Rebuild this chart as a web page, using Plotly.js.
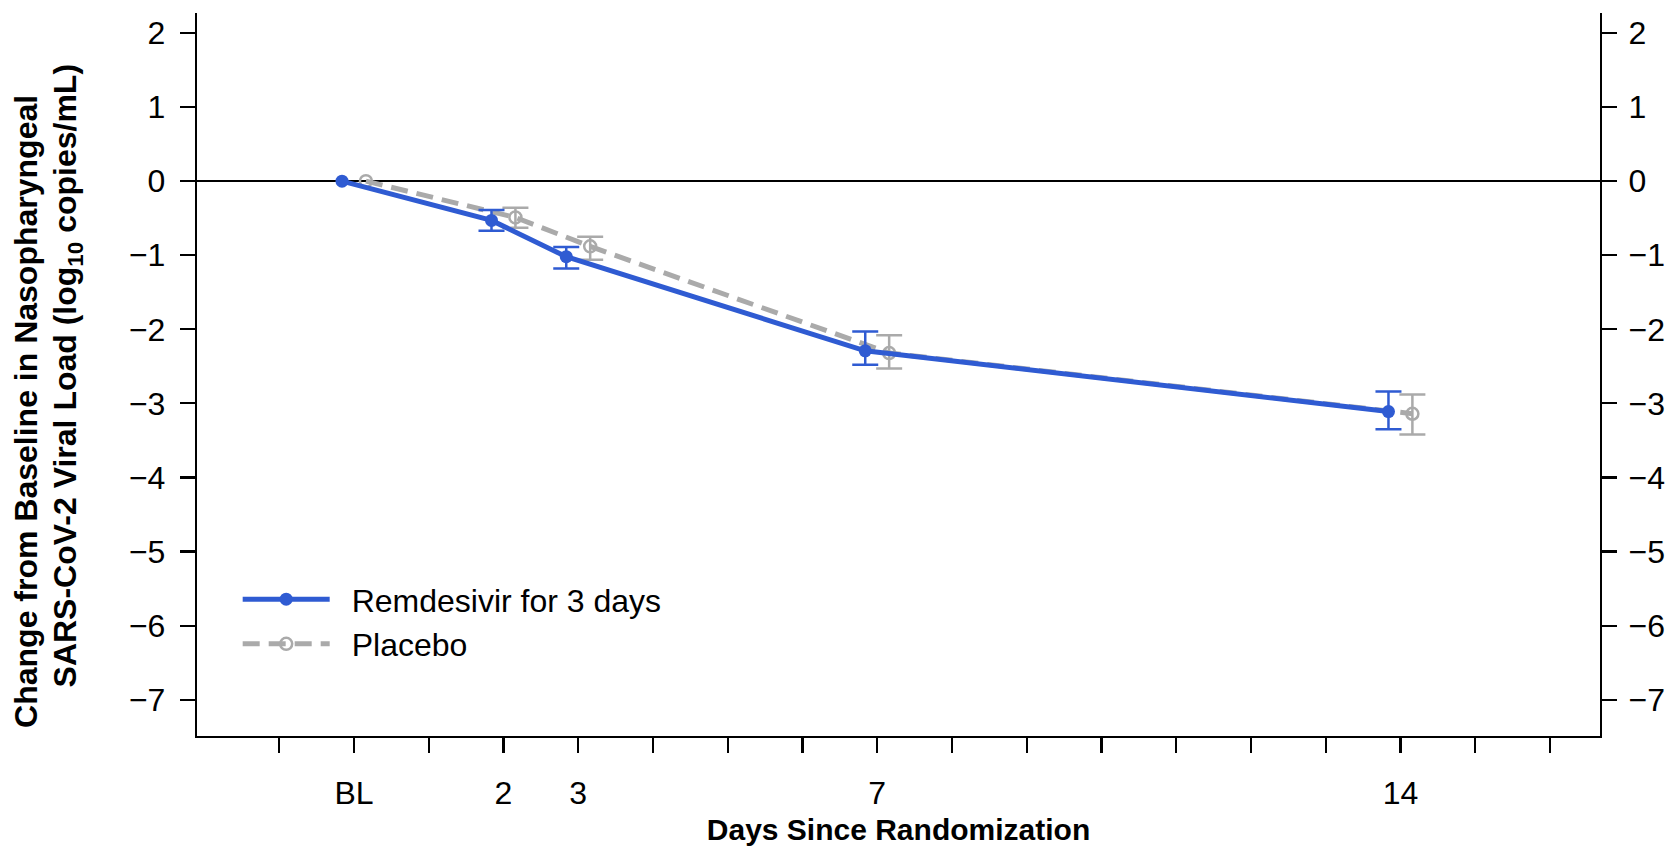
<!DOCTYPE html>
<html>
<head>
<meta charset="utf-8">
<script src="https://cdn.plot.ly/plotly-3.0.1.min.js"></script>
<style>
  html, body { margin: 0; padding: 0; background: #fff; }
  #chart { width: 1667px; height: 848px; }
</style>
</head>
<body>
<div id="chart"></div>
<script>
// ---- data ----
const days = [0, 2, 3, 7, 14];
const remName = 'Remdesivir for 3 days';
const remMean  = [0, -0.53, -1.02, -2.29, -3.11];
const remUpper = [null, -0.39, -0.89, -2.03, -2.84];
const remLower = [null, -0.67, -1.18, -2.48, -3.35];
const plaName = 'Placebo';
const plaMean  = [0, -0.49, -0.88, -2.32, -3.14];
const plaUpper = [null, -0.36, -0.75, -2.08, -2.88];
const plaLower = [null, -0.63, -1.06, -2.53, -3.42];
const xTickVals = [0, 2, 3, 7, 14];
const xTickText = ['BL', '2', '3', '7', '14'];
const xMinorTicks = [-1, 1, 4, 5, 6, 8, 9, 10, 11, 12, 13, 15, 16];
const yTickVals = [2, 1, 0, -1, -2, -3, -4, -5, -6, -7];
const xTitle = 'Days Since Randomization';
const yTitle1 = 'Change from Baseline in Nasopharyngeal';
const yTitle2 = 'SARS-CoV-2 Viral Load (log<sub>10</sub> copies/mL)';

// ---- styling ----
const BLUE = '#2f5bd2';
const GRAY = '#aaaaaa';
const dodge = 0.16;
const FONT = 'Liberation Sans, Arial, Helvetica, sans-serif';
const TICKSIZE = 32;

function errs(mean, hi, lo) {
  return {
    plus: mean.map((m, i) => hi[i] == null ? NaN : hi[i] - m),
    minus: mean.map((m, i) => lo[i] == null ? NaN : m - lo[i])
  };
}
const eRem = errs(remMean, remUpper, remLower);
const ePla = errs(plaMean, plaUpper, plaLower);

const traces = [
  {
    x: days.map(d => d + dodge), y: plaMean, name: plaName,
    type: 'scatter', mode: 'lines+markers',
    line: { color: GRAY, width: 5, dash: '17px,9px' },
    marker: { symbol: 'circle-open', size: 12, color: GRAY, line: { width: 2.5, color: GRAY } },
    error_y: { type: 'data', symmetric: false, array: ePla.plus, arrayminus: ePla.minus,
               color: GRAY, thickness: 2.5, width: 13 }
  },
  {
    x: days.map(d => d - dodge), y: remMean, name: remName,
    type: 'scatter', mode: 'lines+markers',
    line: { color: BLUE, width: 5 },
    marker: { symbol: 'circle', size: 13, color: BLUE },
    error_y: { type: 'data', symmetric: false, array: eRem.plus, arrayminus: eRem.minus,
               color: BLUE, thickness: 2.5, width: 13 }
  }
];

const yRange = [-7.49, 2.27];
const layout = {
  width: 1667, height: 848,
  margin: { l: 197, r: 67, t: 13, b: 112 },
  paper_bgcolor: '#fff', plot_bgcolor: '#fff',
  font: { family: FONT, size: TICKSIZE, color: '#000' },
  showlegend: true,
  legend: {
    x: 0.029, y: 0.227, xanchor: 'left', yanchor: 'top',
    traceorder: 'reversed',
    bgcolor: 'rgba(0,0,0,0)',
    font: { family: FONT, size: 32, color: '#000' },
    itemwidth: 87,
    tracegroupgap: 0
  },
  xaxis: {
    range: [-2.1, 16.67],
    showgrid: false, zeroline: false,
    showline: true, linecolor: '#000', linewidth: 2.2,
    tickmode: 'array', tickvals: xTickVals, ticktext: xTickText,
    ticks: 'outside', ticklen: 15, tickwidth: 2.2, tickcolor: '#000',
    ticklabelstandoff: 12,
    minor: { tickmode: 'array', tickvals: xMinorTicks, ticks: 'outside', ticklen: 15, tickwidth: 2.2, tickcolor: '#000', showgrid: false },
    tickfont: { family: FONT, size: TICKSIZE, color: '#000' },
    title: { text: xTitle, font: { family: FONT, size: 30, color: '#000', weight: 'bold' }, standoff: 10 },
    fixedrange: true
  },
  yaxis: {
    range: yRange,
    showgrid: false,
    zeroline: true, zerolinecolor: '#000', zerolinewidth: 1.8,
    showline: true, linecolor: '#000', linewidth: 2.2,
    tickmode: 'array', tickvals: yTickVals,
    ticks: 'outside', ticklen: 15, tickwidth: 2.2, tickcolor: '#000',
    ticklabelstandoff: 8,
    tickfont: { family: FONT, size: TICKSIZE, color: '#000' },
    fixedrange: true
  },
  yaxis2: {
    range: yRange, overlaying: 'y', side: 'right', anchor: 'x',
    showgrid: false, zeroline: false,
    showline: true, linecolor: '#000', linewidth: 2.2,
    tickmode: 'array', tickvals: yTickVals,
    ticks: 'outside', ticklen: 15, tickwidth: 2.2, tickcolor: '#000',
    ticklabelstandoff: 5,
    tickfont: { family: FONT, size: TICKSIZE, color: '#000' },
    fixedrange: true
  },
  annotations: [
    { text: yTitle1, xref: 'paper', yref: 'paper', x: -0.1215, y: 0.449,
      xanchor: 'center', yanchor: 'middle', textangle: -90, showarrow: false,
      font: { family: FONT, size: 32, color: '#000', weight: 'bold' } },
    { text: yTitle2, xref: 'paper', yref: 'paper', x: -0.0925, y: 0.499,
      xanchor: 'center', yanchor: 'middle', textangle: -90, showarrow: false,
      font: { family: FONT, size: 32, color: '#000', weight: 'bold' } }
  ]
};

// invisible trace to anchor the right-hand axis
traces.push({ x: [days[0]], y: [remMean[0]], yaxis: 'y2', type: 'scatter', mode: 'markers',
  marker: { opacity: 0 }, showlegend: false, hoverinfo: 'skip' });

Plotly.newPlot('chart', traces, layout, { displayModeBar: false, staticPlot: true }).then(gd => {
  // widen the gap between legend symbol and legend text
  gd.querySelectorAll('.legend .scrollbox').forEach(s => s.removeAttribute('clip-path'));
  gd.querySelectorAll('.legend').forEach(s => s.removeAttribute('clip-path'));
  gd.querySelectorAll('.legendtext').forEach(t => {
    const x = parseFloat(t.getAttribute('x')) || 0;
    t.setAttribute('x', x + 17);
  });
});
</script>
</body>
</html>
